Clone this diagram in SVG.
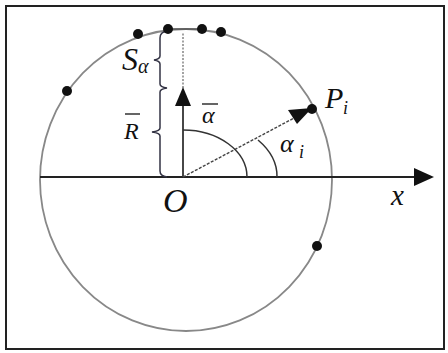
<svg xmlns="http://www.w3.org/2000/svg" width="448" height="353" viewBox="0 0 448 353">
<style>
text{font-family:'Liberation Serif','DejaVu Serif','Times New Roman',serif;font-style:italic;fill:#111}
.dot{fill:#111}
.ln{fill:none;stroke:#333;stroke-width:1.5}
</style>
<rect x="0" y="0" width="448" height="353" fill="#fff"/>
<rect x="6" y="6" width="438" height="343" fill="none" stroke="#222" stroke-width="2"/>
<g id="circle">
<ellipse cx="186" cy="180" rx="146" ry="151" fill="none" stroke="#888" stroke-width="1.8"/>
<line x1="168" y1="29" x2="202" y2="29" stroke="#555" stroke-width="1.5"/>
</g>
<g id="connectors">
<line x1="40" y1="177" x2="416" y2="177" stroke="#222" stroke-width="2"/>
<polygon points="434,177 414,168 414,186" fill="#111"/>
<line x1="183" y1="177" x2="183" y2="104" stroke="#333" stroke-width="1.8"/>
<polygon points="183,87 175,106 191,106" fill="#111"/>
<line x1="183" y1="88" x2="183" y2="33" stroke="#666" stroke-width="1.2" stroke-dasharray="2 1.5"/>
<line x1="183" y1="177" x2="296" y2="117" stroke="#444" stroke-width="1.4" stroke-dasharray="3 1.5"/>
<polygon points="312,108 288,110 297,124" fill="#111"/>
<path class="ln" d="M 183 130 A 64 47 0 0 1 247 177"/>
<path class="ln" d="M 277 177 A 94 60 0 0 0 258 140"/>
<path d="M 167 31 Q 160 32 160 38 L 160 56 Q 160 59 154 60 Q 160 61 160 64 L 160 84 Q 160 87 167 88 Q 160 89 160 92 L 160 128 Q 160 131 152 132 Q 160 133 160 136 L 160 171 Q 160 176 167 177" fill="none" stroke="#334" stroke-width="1.5"/>
</g>
<g id="points">
<circle class="dot" cx="138" cy="34" r="5"/>
<circle class="dot" cx="168" cy="29" r="5"/>
<circle class="dot" cx="202" cy="29" r="5"/>
<circle class="dot" cx="221" cy="32" r="5"/>
<circle class="dot" cx="67" cy="91" r="5"/>
<circle class="dot" cx="312" cy="109" r="5"/>
<circle class="dot" cx="317" cy="246" r="5"/>
</g>
<g id="labels">
<text font-family="Liberation Serif, serif" x="122" y="70" font-size="32">S</text>
<text font-family="Liberation Serif, serif" x="138" y="73" font-size="20">α</text>
<text font-family="Liberation Serif, serif" x="124" y="139" font-size="24">R</text>
<line x1="125" y1="114" x2="140" y2="114" stroke="#111" stroke-width="1.3"/>
<text font-family="Liberation Serif, serif" x="202" y="123" font-size="24">α</text>
<line x1="202" y1="104" x2="218" y2="104" stroke="#111" stroke-width="1.3"/>
<text font-family="Liberation Serif, serif" x="280" y="152" font-size="26">α</text>
<text font-family="Liberation Serif, serif" x="299" y="158" font-size="18">i</text>
<text font-family="Liberation Serif, serif" x="325" y="108" font-size="30">P</text>
<text font-family="Liberation Serif, serif" x="343" y="114" font-size="18">i</text>
<text font-family="Liberation Serif, serif" x="163" y="212" font-size="34">O</text>
<text font-family="Liberation Serif, serif" x="391" y="205" font-size="29">x</text>
</g>
</svg>
